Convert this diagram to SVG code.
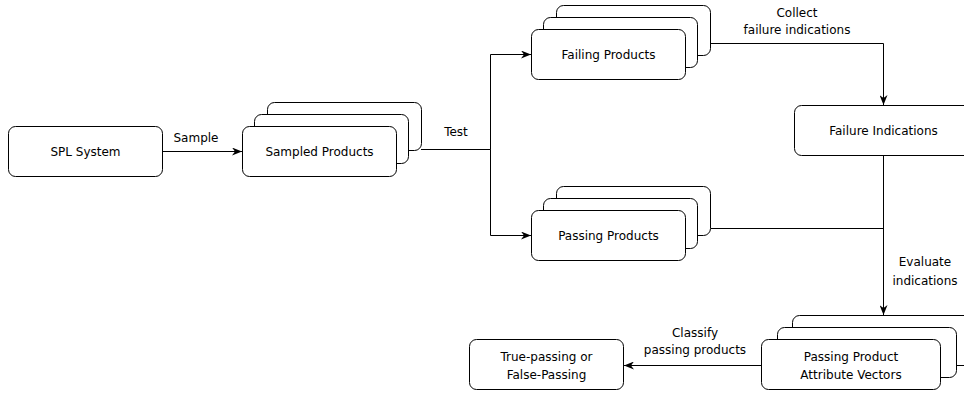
<svg xmlns="http://www.w3.org/2000/svg" width="964" height="394" viewBox="0 0 964 394">
  <style>
    .box { fill: #ffffff; stroke: #000000; stroke-width: 1; }
    .edge { fill: none; stroke: #000000; stroke-width: 1; }
    .lbl { font-family: "DejaVu Sans", Verdana, sans-serif; font-size: 12px; fill: #000000; text-anchor: middle; }
  </style>
  <defs>
    <marker id="arrow" viewBox="0 0 10 8" refX="10" refY="4" markerWidth="10" markerHeight="8" markerUnits="userSpaceOnUse" orient="auto">
      <path d="M0,0 L10,4 L0,8 L3,4 z" fill="#000000"/>
    </marker>
  </defs>
  <rect width="964" height="394" fill="#ffffff"/>

  <!-- connectors -->
  <g id="connectors">
    <path class="edge" d="M162.5 151.5 H242" marker-end="url(#arrow)"/>
    <path class="edge" d="M421 149.5 H490.5 V54.5 H531" marker-end="url(#arrow)"/>
    <path class="edge" d="M421 149.5 H490.5 V235.5 H531" marker-end="url(#arrow)"/>
    <path class="edge" d="M710.5 43.5 H883.5 V105" marker-end="url(#arrow)"/>
    <path class="edge" d="M883.5 155.5 V315" marker-end="url(#arrow)"/>
    <path class="edge" d="M710.5 228.5 H883.5"/>
    <path class="edge" d="M761.5 365.5 H624" marker-end="url(#arrow)"/>
    <text class="lbl" x="196" y="142">Sample</text>
    <text class="lbl" x="456" y="136">Test</text>
    <text class="lbl" x="797" y="17">Collect</text>
    <text class="lbl" x="797" y="34">failure indications</text>
    <text class="lbl" x="925" y="266">Evaluate</text>
    <text class="lbl" x="925" y="285">indications</text>
    <text class="lbl" x="695" y="337">Classify</text>
    <text class="lbl" x="695" y="354">passing products</text>
  </g>

  <g id="spl-system">
    <rect class="box" x="8.5" y="126.5" width="154" height="50" rx="7"/>
    <text class="lbl" x="85.5" y="155.5">SPL System</text>
  </g>

  <g id="sampled-products">
    <rect class="box" x="267.5" y="102.5" width="154" height="48" rx="7"/>
    <rect class="box" x="254.5" y="114.5" width="154" height="49" rx="7"/>
    <rect class="box" x="242.5" y="126.5" width="154" height="50" rx="7"/>
    <text class="lbl" x="319.5" y="155.5">Sampled Products</text>
  </g>

  <g id="failing-products">
    <rect class="box" x="556.5" y="5.5" width="154" height="50" rx="7"/>
    <rect class="box" x="543.5" y="17.5" width="154" height="50" rx="7"/>
    <rect class="box" x="531.5" y="29.5" width="154" height="50" rx="7"/>
    <text class="lbl" x="608.5" y="58.5">Failing Products</text>
  </g>

  <g id="passing-products">
    <rect class="box" x="556.5" y="186.5" width="154" height="49" rx="7"/>
    <rect class="box" x="543.5" y="198.5" width="154" height="50" rx="7"/>
    <rect class="box" x="531.5" y="210.5" width="154" height="50" rx="7"/>
    <text class="lbl" x="608.5" y="239.5">Passing Products</text>
  </g>

  <g id="failure-indications">
    <rect class="box" x="794.5" y="105.5" width="178" height="50" rx="7"/>
    <text class="lbl" x="883.5" y="134.5">Failure Indications</text>
  </g>

  <g id="attribute-vectors">
    <rect class="box" x="792.5" y="315.5" width="179" height="50" rx="7"/>
    <rect class="box" x="777.5" y="327.5" width="179" height="50" rx="7"/>
    <rect class="box" x="761.5" y="339.5" width="179" height="50" rx="7"/>
    <text class="lbl" x="851" y="361">Passing Product</text>
    <text class="lbl" x="851" y="378.5">Attribute Vectors</text>
  </g>

  <g id="classification">
    <rect class="box" x="469.5" y="339.5" width="154" height="50" rx="7"/>
    <text class="lbl" x="546.5" y="361">True-passing or</text>
    <text class="lbl" x="546.5" y="378.5">False-Passing</text>
  </g>
</svg>
